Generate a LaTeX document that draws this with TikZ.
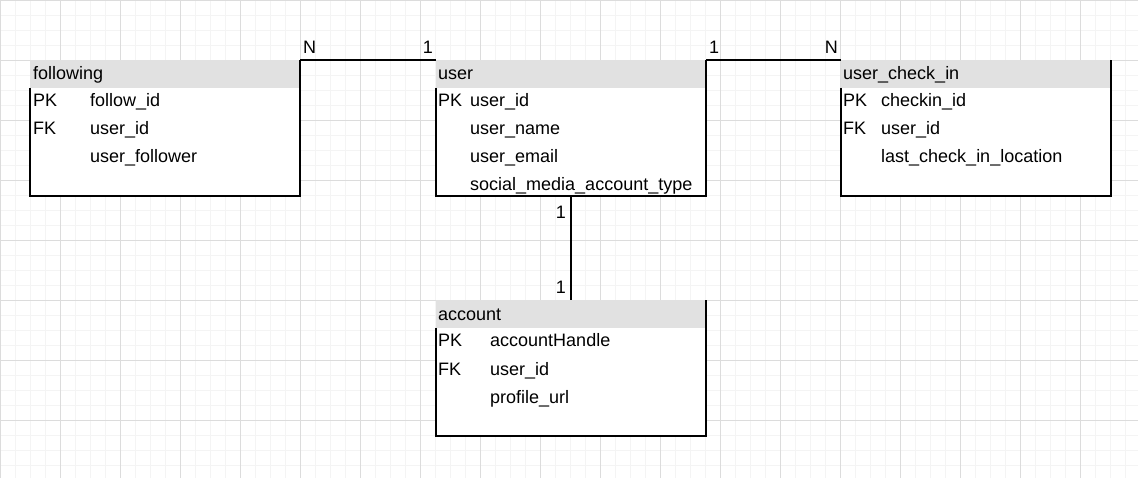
\documentclass[tikz,border=0pt]{standalone}
\usepackage{fontspec}
\setmainfont{Liberation Sans}
\definecolor{hdrgray}{HTML}{E1E1E1}
\definecolor{gridminor}{HTML}{F4F4F4}
\definecolor{gridmajor}{HTML}{DCDCDC}

\begin{document}
\begin{tikzpicture}[x=1pt,y=-1pt]
\tikzstyle{every node}=[font=\fontsize{18}{20}\selectfont, inner sep=0pt]
\tikzstyle{table}=[minimum width=270pt, minimum height=136pt, draw=none, fill=white]
\tikzstyle{header}=[fill=hdrgray]
\tikzstyle{border}=[line width=1.5pt]
\tikzstyle{relation}=[line width=1.5pt]
\tikzstyle{field}=[anchor=base west]
\tikzstyle{card}=[anchor=base east]

\useasboundingbox (0,0) rectangle (1138,478);
% grid
\begin{scope}[shift={(0.5,0.5)}]
\draw[gridminor, line width=1pt, step=15pt] (-15,-15) grid (1140,480);
\draw[gridmajor, line width=1pt, step=60pt] (-60,-60) grid (1140,480);
\end{scope}

\node[table] (following) at (165,128) {};
\node[table] (user) at (571,128) {};
\node[table] (checkin) at (976,128) {};
\node[table] (account) at (571,368) {};

\foreach \t in {following,user,checkin,account} {
	\fill[header] (\t.north west) rectangle ([yshift=-28pt]\t.north east);
	\draw[border] ([yshift=-28pt]\t.north west) -- (\t.south west) -- (\t.south east) -- (\t.north east);
}

% following
\node[field] (following-title) at (33,80) {following};
\node[field] (following-pk) at (33,107) {PK};
\node[field] (following-id) at (90,107) {follow\_id};
\node[field] (following-fk) at (33,135) {FK};
\node[field] (following-user) at (90,135) {user\_id};
\node[field] (following-follower) at (90,163) {user\_follower};

% user
\node[field] (user-title) at (438,80) {user};
\node[field] (user-pk) at (438,107) {PK};
\node[field] (user-id) at (470,107) {user\_id};
\node[field] (user-name) at (470,135) {user\_name};
\node[field] (user-email) at (470,163) {user\_email};
\node[field] (user-type) at (470,191) {social\_media\_account\_type};

% user_check_in
\node[field] (checkin-title) at (843,80) {user\_check\_in};
\node[field] (checkin-pk) at (843,107) {PK};
\node[field] (checkin-id) at (881,107) {checkin\_id};
\node[field] (checkin-fk) at (843,135) {FK};
\node[field] (checkin-user) at (881,135) {user\_id};
\node[field] (checkin-location) at (881,163) {last\_check\_in\_location};

% account
\node[field] (account-title) at (438,320) {account};
\node[field] (account-pk) at (438,347) {PK};
\node[field] (account-handle) at (490,347) {accountHandle};
\node[field] (account-fk) at (438,375) {FK};
\node[field] (account-user) at (490,375) {user\_id};
\node[field] (account-url) at (490,403) {profile\_url};

% relations
\draw[relation] (following.north east) -- (user.north west);
\draw[relation] (user.north east) -- (checkin.north west);
\draw[relation] (user.south) -- (account.north);

\node[field] (following-n) at (303,54) {N};
\node[card] (user-one-left) at (433,54) {1};
\node[field] (user-one-right) at (709,54) {1};
\node[card] (checkin-n) at (838,54) {N};
\node[card] (user-one-down) at (566,219) {1};
\node[card] (account-one) at (566,294) {1};

\end{tikzpicture}
\end{document}
